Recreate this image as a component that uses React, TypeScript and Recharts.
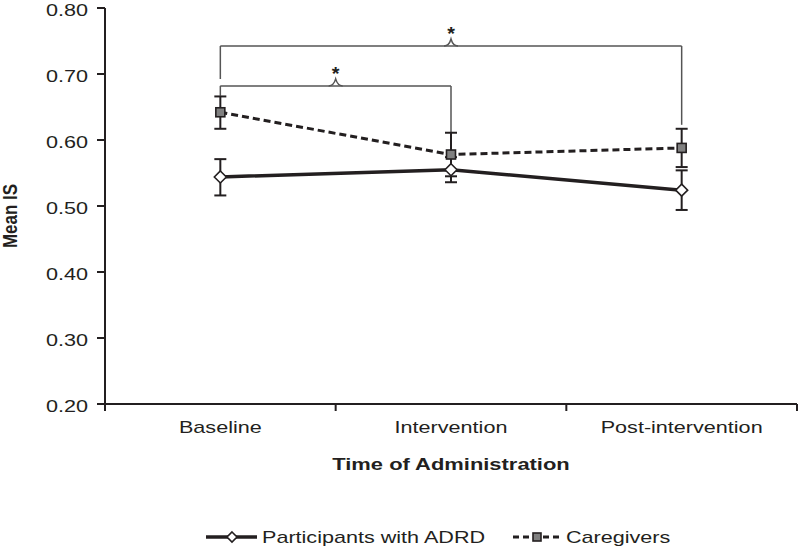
import { LineChart, Line, XAxis, YAxis, ErrorBar, Legend, ReferenceLine, ReferenceDot, Label } from 'recharts';

const categories = ['Baseline', 'Intervention', 'Post-intervention'];
const participants = [0.544, 0.555, 0.524];
const participantsLow = [0.516, 0.536, 0.494];
const participantsHigh = [0.571, 0.574, 0.554];
const caregivers = [0.642, 0.578, 0.588];
const caregiversLow = [0.617, 0.545, 0.559];
const caregiversHigh = [0.666, 0.611, 0.617];
const yTicks = [0.2, 0.3, 0.4, 0.5, 0.6, 0.7, 0.8];

// significance brackets: from category index to category index
const brackets = [
    { from: 0, to: 2, top: 0.7424, leftEnd: 0.6924, rightEnd: 0.623 },
    { from: 0, to: 1, top: 0.682, leftEnd: 0.667, rightEnd: 0.611 },
];

const INK = '#231f20';
const FONT = '"Liberation Sans", Arial, sans-serif';
const STRETCH = 1.27; // the original figure's type is wide

const data = categories.map((name, i) => ({
    name,
    pos: i + 0.5,
    participants: participants[i],
    pErr: [participants[i] - participantsLow[i], participantsHigh[i] - participants[i]],
    caregivers: caregivers[i],
    cErr: [caregivers[i] - caregiversLow[i], caregiversHigh[i] - caregivers[i]],
}));

const xTicks = [0, 0.5, 1, 1.5, 2, 2.5, 3];

function WideText({ x, y, anchor = 'middle', size = 17, bold = false, children, sx = STRETCH }: any) {
    return (
        <text
            transform={`translate(${x},${y}) scale(${sx},1)`}
            textAnchor={anchor}
            fontSize={size}
            fontWeight={bold ? 'bold' : 'normal'}
            fill={INK}
            fontFamily={FONT}
        >
            {children}
        </text>
    );
}

function XTick(props: any) {
    const { x, y, payload } = props;
    const v = payload.value;
    if (Number.isInteger(v)) {
        return <line x1={x} y1={y} x2={x} y2={y + 7} stroke={INK} strokeWidth={2} />;
    }
    return (
        <WideText x={x} y={y + 29}>
            {categories[Math.floor(v)]}
        </WideText>
    );
}

function YTick(props: any) {
    const { x, y, payload } = props;
    return (
        <WideText x={x} y={y + 7.5} anchor="end">
            {payload.value.toFixed(2)}
        </WideText>
    );
}

function XTitle(props: any) {
    const { viewBox } = props;
    return (
        <WideText x={viewBox.x + viewBox.width / 2} y={viewBox.y + 66} size={17} bold sx={1.29}>
            Time of Administration
        </WideText>
    );
}

function YTitle(props: any) {
    const { viewBox } = props;
    const cy = viewBox.y + viewBox.height / 2 + 10;
    return (
        <text
            transform={`translate(17,${cy}) rotate(-90) scale(1,1.2)`}
            textAnchor="middle"
            fontSize={17}
            fontWeight="bold"
            fill={INK}
            fontFamily={FONT}
        >
            Mean IS
        </text>
    );
}

function Diamond({ cx, cy, size = 6 }: { cx: number; cy: number; size?: number }) {
    return (
        <path
            d={`M${cx},${cy - size} L${cx + size},${cy} L${cx},${cy + size} L${cx - size},${cy} Z`}
            fill="#fff"
            stroke={INK}
            strokeWidth={1.6}
        />
    );
}

function Square({ cx, cy, size = 4.5 }: { cx: number; cy: number; size?: number }) {
    return (
        <rect x={cx - size} y={cy - size} width={size * 2} height={size * 2} fill="#808080" stroke={INK} strokeWidth={1.6} />
    );
}

function Brace(props: any) {
    const { cx, cy } = props;
    return (
        <g>
            <path
                d={`M${cx - 7},${cy} Q${cx - 2},${cy} ${cx},${cy - 7} Q${cx + 2},${cy} ${cx + 7},${cy}`}
                fill="none"
                stroke="#555"
                strokeWidth={1.5}
            />
            <WideText x={cx} y={cy - 6} size={18} bold sx={1.1}>
                *
            </WideText>
        </g>
    );
}

function renderLegend() {
    return (
        <div style={{ position: 'relative', height: 50 }}>
            <svg width={800} height={50} style={{ position: 'absolute', left: 0, top: 0 }}>
                <line x1={206} y1={37} x2={257} y2={37} stroke={INK} strokeWidth={3.5} />
                <Diamond cx={232} cy={37} size={5} />
                <WideText x={262} y={43} anchor="start">
                    Participants with ADRD
                </WideText>
                <line x1={513} y1={37} x2={561} y2={37} stroke={INK} strokeWidth={3} strokeDasharray="6 4" />
                <Square cx={537} cy={37} size={4} />
                <WideText x={566} y={43} anchor="start">
                    Caregivers
                </WideText>
            </svg>
        </div>
    );
}

export default function App() {
    return (
        <div style={{ position: 'absolute', left: 0, top: 0, background: '#fff' }}>
            <LineChart width={800} height={550} data={data} margin={{ top: 8, right: 3, left: 0, bottom: 0 }}>
                <XAxis
                    dataKey="pos"
                    type="number"
                    domain={[0, 3]}
                    ticks={xTicks}
                    interval={0}
                    tick={<XTick />}
                    tickLine={false}
                    tickSize={0}
                    tickMargin={0}
                    height={96}
                    axisLine={{ stroke: INK, strokeWidth: 2 }}
                >
                    <Label content={XTitle} />
                </XAxis>
                <YAxis
                    type="number"
                    domain={[0.2, 0.8]}
                    ticks={yTicks}
                    interval={0}
                    width={105}
                    tickSize={8}
                    tickMargin={9}
                    tick={<YTick />}
                    tickLine={{ stroke: INK, strokeWidth: 2 }}
                    axisLine={{ stroke: INK, strokeWidth: 2 }}
                >
                    <Label content={YTitle} />
                </YAxis>
                <Legend verticalAlign="bottom" height={50} content={renderLegend} />
                {brackets.map((b, i) => (
                    <ReferenceLine
                        key={`l${i}`}
                        segment={[
                            { x: b.from + 0.5, y: b.leftEnd },
                            { x: b.from + 0.5, y: b.top },
                        ]}
                        stroke="#555"
                        strokeWidth={1.5}
                    />
                ))}
                {brackets.map((b, i) => (
                    <ReferenceLine
                        key={`t${i}`}
                        segment={[
                            { x: b.from + 0.5, y: b.top },
                            { x: b.to + 0.5, y: b.top },
                        ]}
                        stroke="#555"
                        strokeWidth={1.5}
                    />
                ))}
                {brackets.map((b, i) => (
                    <ReferenceLine
                        key={`r${i}`}
                        segment={[
                            { x: b.to + 0.5, y: b.top },
                            { x: b.to + 0.5, y: b.rightEnd },
                        ]}
                        stroke="#555"
                        strokeWidth={1.5}
                    />
                ))}
                {brackets.map((b, i) => (
                    <ReferenceDot
                        key={`d${i}`}
                        x={(b.from + b.to) / 2 + 0.5}
                        y={b.top}
                        r={0}
                        shape={Brace}
                    />
                ))}
                <Line
                    dataKey="participants"
                    stroke={INK}
                    strokeWidth={3.5}
                    isAnimationActive={false}
                    dot={(p: any) => <Diamond key={`pd${p.index}`} cx={p.cx} cy={p.cy} />}
                    activeDot={false}
                >
                    <ErrorBar dataKey="pErr" width={6} stroke={INK} strokeWidth={2} isAnimationActive={false} />
                </Line>
                <Line
                    dataKey="caregivers"
                    stroke={INK}
                    strokeWidth={3}
                    strokeDasharray="7 4"
                    isAnimationActive={false}
                    dot={(p: any) => <Square key={`cd${p.index}`} cx={p.cx} cy={p.cy} />}
                    activeDot={false}
                >
                    <ErrorBar dataKey="cErr" width={6} stroke={INK} strokeWidth={2} isAnimationActive={false} />
                </Line>
            </LineChart>
        </div>
    );
}
